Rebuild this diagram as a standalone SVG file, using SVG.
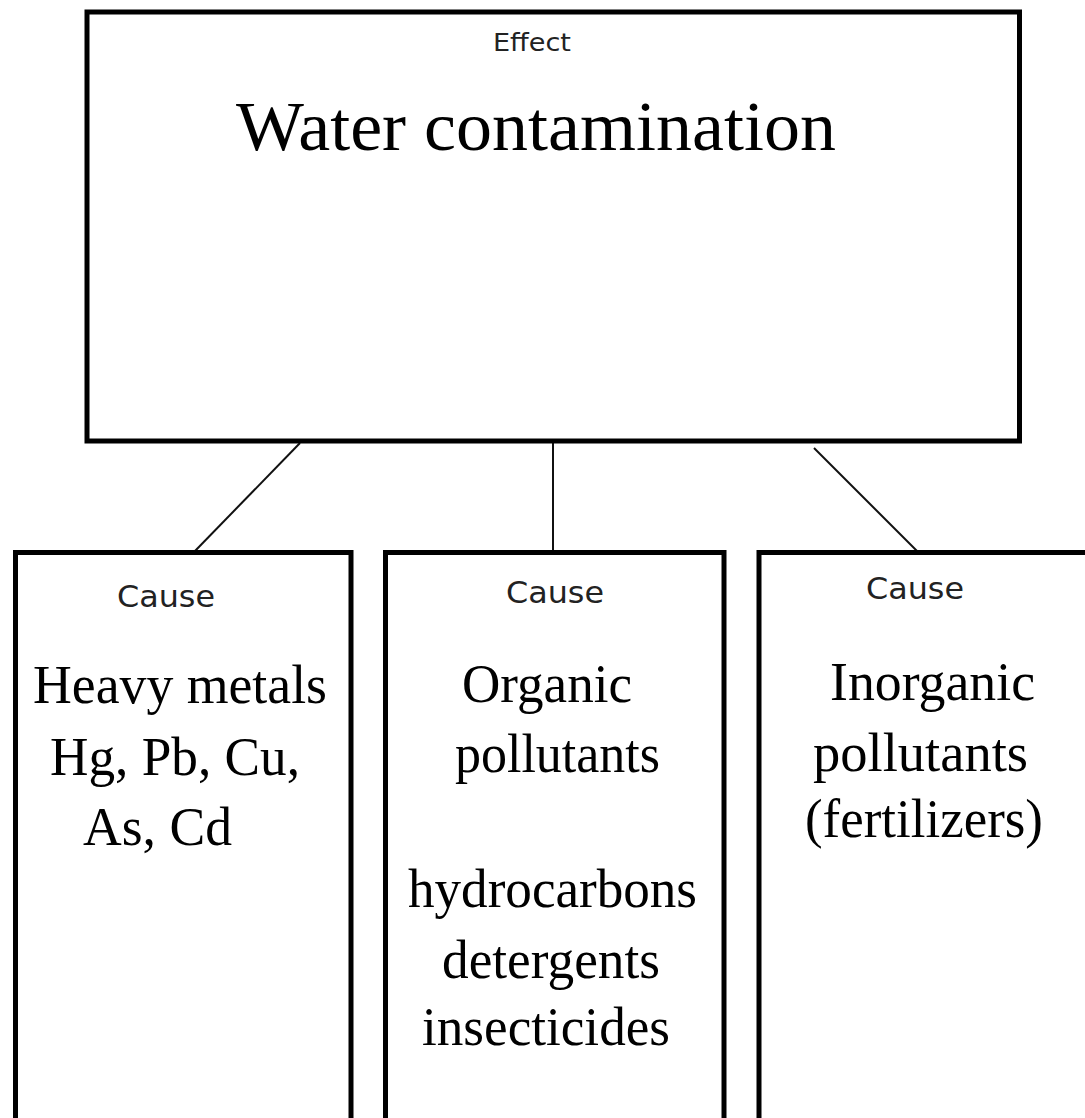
<svg xmlns="http://www.w3.org/2000/svg" width="1085" height="1118" viewBox="0 0 1085 1118">
<style>
.box{fill:#fff;stroke:#000;stroke-width:5}
.conn{stroke:#111;stroke-width:2;fill:none}
.lbl{font-family:"DejaVu Sans",Verdana,sans-serif;fill:#222}
.big{font-family:"Liberation Serif","Times New Roman",serif;fill:#000}
</style>
<rect width="1085" height="1118" fill="#fff"/>
<g id="connectors">
<line class="conn" x1="300" y1="443" x2="195" y2="551"/>
<line class="conn" x1="553" y1="443" x2="553" y2="551"/>
<line class="conn" x1="814" y1="448" x2="917" y2="551"/>
</g>
<g id="effect">
<rect class="box" x="87" y="12" width="932.5" height="429"/>
<text class="lbl" x="493" y="51" font-size="24" textLength="78" lengthAdjust="spacingAndGlyphs">Effect</text>
<text class="big" x="236" y="150" font-size="70" textLength="600" lengthAdjust="spacingAndGlyphs">Water contamination</text>
</g>
<g id="cause1">
<rect class="box" x="15.5" y="552.5" width="335.5" height="580"/>
<text class="lbl" x="117" y="607" font-size="31" textLength="98" lengthAdjust="spacingAndGlyphs">Cause</text>
<text class="big" font-size="55">
<tspan x="33" y="703" textLength="294" lengthAdjust="spacingAndGlyphs">Heavy metals</tspan>
<tspan x="50" y="775" textLength="250" lengthAdjust="spacingAndGlyphs">Hg, Pb, Cu,</tspan>
<tspan x="83" y="845" textLength="149" lengthAdjust="spacingAndGlyphs">As, Cd</tspan>
</text>
</g>
<g id="cause2">
<rect class="box" x="385.5" y="552.5" width="338.5" height="580"/>
<text class="lbl" x="506" y="603" font-size="31" textLength="98" lengthAdjust="spacingAndGlyphs">Cause</text>
<text class="big" font-size="55">
<tspan x="462" y="702" textLength="170" lengthAdjust="spacingAndGlyphs">Organic</tspan>
<tspan x="455" y="772" textLength="205" lengthAdjust="spacingAndGlyphs">pollutants</tspan>
<tspan x="408" y="907" textLength="289" lengthAdjust="spacingAndGlyphs">hydrocarbons</tspan>
<tspan x="442" y="978" textLength="218" lengthAdjust="spacingAndGlyphs">detergents</tspan>
<tspan x="422" y="1045" textLength="248" lengthAdjust="spacingAndGlyphs">insecticides</tspan>
</text>
</g>
<g id="cause3">
<rect class="box" x="759" y="552.5" width="340" height="580"/>
<text class="lbl" x="866" y="599" font-size="31" textLength="98" lengthAdjust="spacingAndGlyphs">Cause</text>
<text class="big" font-size="55">
<tspan x="830" y="700" textLength="205" lengthAdjust="spacingAndGlyphs">Inorganic</tspan>
<tspan x="813" y="771" textLength="215" lengthAdjust="spacingAndGlyphs">pollutants</tspan>
<tspan x="805" y="837" textLength="238" lengthAdjust="spacingAndGlyphs">(fertilizers)</tspan>
</text>
</g>
</svg>
